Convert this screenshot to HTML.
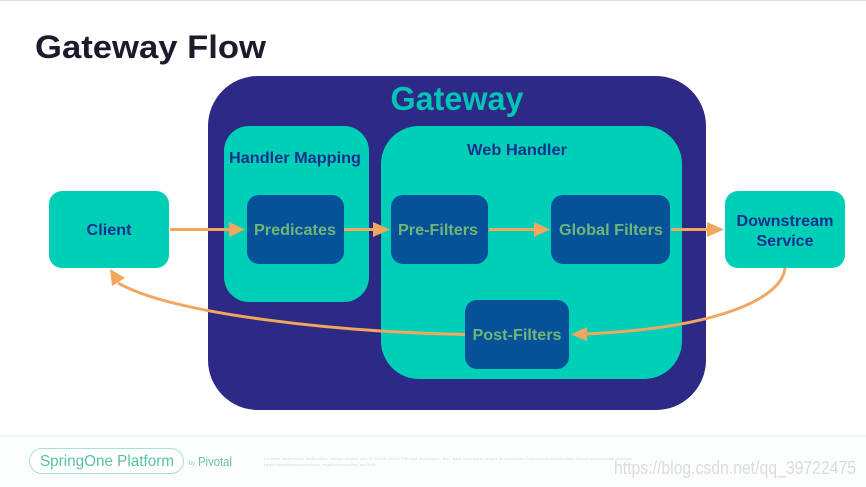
<!DOCTYPE html>
<html><head><meta charset="utf-8"><style>
html,body{margin:0;padding:0;background:#fff;width:866px;height:487px;overflow:hidden}
svg{display:block}
text{font-family:"Liberation Sans",sans-serif;font-weight:bold;text-anchor:middle}
.n{font-weight:normal}
.s{filter:blur(.35px)}
</style></head><body>
<svg width="866" height="487" viewBox="0 0 866 487" xmlns="http://www.w3.org/2000/svg">
<rect width="866" height="487" fill="#fff"/>
<rect width="866" height="1" fill="#dfe0f3"/>
<rect y="435" width="866" height="2" fill="#f1f5f4"/>
<rect y="437" width="866" height="50" fill="#fcfdfd"/>
<g class="s">
<text x="150.500" y="58" font-size="32" fill="#1b1c2b" textLength="231" lengthAdjust="spacingAndGlyphs">Gateway Flow</text>

<rect x="208" y="76" width="498" height="334" rx="50" fill="#2c2a86"/>
<rect x="224" y="126" width="145" height="176" rx="25" fill="#00cfb8"/>
<rect x="381" y="126" width="301" height="253" rx="38" fill="#00cfb8"/>
<rect x="49" y="191" width="120" height="77" rx="13" fill="#00cfb8"/>
<rect x="725" y="191" width="120" height="77" rx="13" fill="#00cfb8"/>
<rect x="247" y="195" width="97" height="69" rx="12" fill="#055299"/>
<rect x="391" y="195" width="97" height="69" rx="12" fill="#055299"/>
<rect x="551" y="195" width="119" height="69" rx="12" fill="#055299"/>
<rect x="465" y="300" width="104" height="69" rx="12" fill="#055299"/>

<text x="457" y="110" font-size="33" fill="#00c4b6" textLength="133" lengthAdjust="spacingAndGlyphs">Gateway</text>
<text x="295" y="163" font-size="15.500" fill="#17308c" textLength="132" lengthAdjust="spacingAndGlyphs">Handler Mapping</text>
<text x="517" y="155" font-size="15.500" fill="#17308c" textLength="100" lengthAdjust="spacingAndGlyphs">Web Handler</text>
<text x="109" y="235" font-size="15.500" fill="#17308c" textLength="45" lengthAdjust="spacingAndGlyphs">Client</text>
<text x="785" y="226" font-size="15.500" fill="#17308c" textLength="97" lengthAdjust="spacingAndGlyphs">Downstream</text>
<text x="785" y="246" font-size="15.500" fill="#17308c" textLength="57" lengthAdjust="spacingAndGlyphs">Service</text>
<text x="295" y="235" font-size="15.500" fill="#72b578" textLength="82" lengthAdjust="spacingAndGlyphs">Predicates</text>
<text x="438" y="235" font-size="15.500" fill="#72b578" textLength="80" lengthAdjust="spacingAndGlyphs">Pre-Filters</text>
<text x="611" y="235" font-size="15.500" fill="#72b578" textLength="104" lengthAdjust="spacingAndGlyphs">Global Filters</text>
<text x="517" y="340" font-size="15.500" fill="#72b578" textLength="89" lengthAdjust="spacingAndGlyphs">Post-Filters</text>

<g fill="none" stroke="#f2a65e" stroke-width="3">
<path d="M170 229.500H232"/>
<path d="M344 229.500H376"/>
<path d="M489 229.500H537"/>
<path d="M671 229.500H710"/>
<path d="M785 268C782 298 720 328 585 334"/>
<path d="M465 334.500C340 332 175 315 118 283"/>
</g>
<g fill="#f2a65e">
<path d="M245 229.500L229 222V237Z"/>
<path d="M390 229.500L373 222V237Z"/>
<path d="M550 229.500L534 222V237Z"/>
<path d="M724 229.500L707 222V237Z"/>
<path d="M571 334.500L587 327V341Z"/>
<path d="M110 269L112 286L125 278Z"/>
</g>
</g>

<g class="s">
<rect x="29.500" y="448.500" width="154" height="25" rx="12.500" fill="#fff" stroke="#a8e0d2" stroke-width="1"/>
<text x="107" y="466" font-size="16" fill="#59c0a5" class="n" textLength="134" lengthAdjust="spacingAndGlyphs">SpringOne Platform</text>
<text x="192" y="465" font-size="6" fill="#9ac9bd" class="n">by</text>
<text x="215" y="466" font-size="13" fill="#6cc0ab" class="n" textLength="34" lengthAdjust="spacingAndGlyphs">Pivotal</text>
<text x="448" y="460" font-size="4" fill="#d4dadb" class="n" textLength="368" lengthAdjust="spacingAndGlyphs">Unless otherwise indicated, these slides are © 2013-2018 Pivotal Software, Inc. and licensed under a Creative Commons Attribution-NonCommercial license</text>
<text x="320" y="466" font-size="4" fill="#d4dadb" class="n" textLength="112" lengthAdjust="spacingAndGlyphs">http://creativecommons.org/licenses/by-nc/3.0/</text>
<text x="735" y="474" font-size="18" fill="#dcdcdc" class="n" textLength="242" lengthAdjust="spacingAndGlyphs">https://blog.csdn.net/qq_39722475</text>
</g>
</svg>
</body></html>
